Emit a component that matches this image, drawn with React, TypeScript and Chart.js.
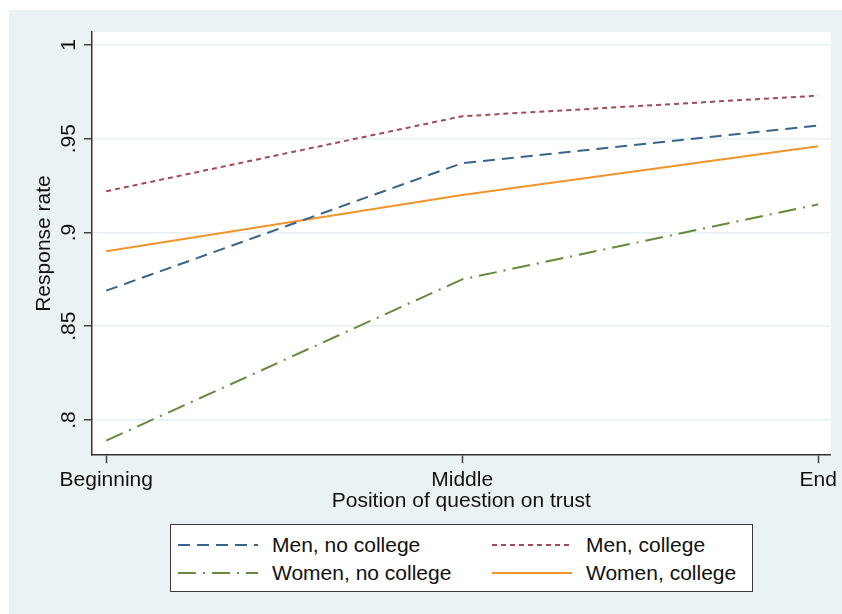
import { useEffect, useRef } from "react"
import { Chart, registerables } from "chart.js"

Chart.register(...registerables)

// Datos
const categorias = ["Beginning", "Middle", "End"]
const posiciones = [0, 1, 2]
const hombresSinUni = [0.869, 0.937, 0.957]
const hombresConUni = [0.922, 0.962, 0.973]
const mujeresSinUni = [0.789, 0.875, 0.915]
const mujeresConUni = [0.89, 0.92, 0.946]
const ticksY = [0.8, 0.85, 0.9, 0.95, 1]

const FUENTE = '"Liberation Sans", Arial, Helvetica, sans-serif'
const FONDO = "#eaf2f3"

const series = [
  { label: "Men, no college", data: hombresSinUni, color: "#38648c", dash: [12, 7] },
  { label: "Men, college", data: hombresConUni, color: "#a24b56", dash: [5, 4] },
  { label: "Women, no college", data: mujeresSinUni, color: "#638b3b", dash: [18, 7, 2, 7] },
  { label: "Women, college", data: mujeresConUni, color: "#f0952c", dash: [] as number[] },
]

// Formato estilo Stata: ".95" en vez de "0.95"
const formatoStata = (v: number) => {
  const s = String(Math.round(v * 100) / 100)
  return s.startsWith("0.") ? s.slice(1) : s
}

const fondoBlanco = {
  id: "fondoBlanco",
  beforeDraw(chart: Chart) {
    const { ctx, chartArea } = chart
    ctx.save()
    ctx.fillStyle = "#ffffff"
    ctx.fillRect(chartArea.left, chartArea.top, chartArea.right - chartArea.left, chartArea.bottom - chartArea.top)
    ctx.restore()
  },
}

export default function App() {
  const canvasRef = useRef<HTMLCanvasElement>(null)
  const chartRef = useRef<Chart | null>(null)

  useEffect(() => {
    if (!canvasRef.current) return
    chartRef.current?.destroy()
    chartRef.current = new Chart(canvasRef.current, {
      type: "line",
      data: {
        datasets: series.map((s) => ({
          label: s.label,
          data: s.data.map((y, i) => ({ x: posiciones[i], y })),
          borderColor: s.color,
          backgroundColor: s.color,
          borderWidth: 2,
          borderDash: s.dash,
          pointRadius: 0,
          tension: 0,
          fill: false,
        })),
      },
      options: {
        animation: false,
        responsive: true,
        maintainAspectRatio: false,
        layout: { padding: { left: 0, top: 22, right: 11, bottom: 100.4 } },
        plugins: {
          legend: { display: false },
          tooltip: { enabled: false },
        },
        scales: {
          x: {
            type: "linear",
            min: -0.04,
            max: 2.035,
            afterBuildTicks: (scale) => {
              scale.ticks = posiciones.map((v) => ({ value: v }))
            },
            afterFit: (scale) => {
              scale.height = 58.6
            },
            ticks: {
              autoSkip: false,
              maxRotation: 0,
              padding: 5,
              color: "#111",
              font: { family: FUENTE, size: 21 },
              callback: (v) => categorias[posiciones.indexOf(Number(v))] ?? "",
            },
            grid: {
              drawOnChartArea: false,
              tickLength: 8,
              tickColor: "#444",
              tickWidth: 1.5,
            },
            border: { display: true, color: "#333", width: 1.5 },
            title: {
              display: true,
              text: "Position of question on trust",
              color: "#111",
              font: { family: FUENTE, size: 21 },
              padding: { top: 0, bottom: 0 },
            },
          },
          y: {
            min: 0.78133,
            max: 1.00693,
            afterBuildTicks: (scale) => {
              scale.ticks = ticksY.map((v) => ({ value: v }))
            },
            afterFit: (scale) => {
              scale.width = 83
            },
            ticks: {
              autoSkip: false,
              minRotation: 90,
              maxRotation: 90,
              crossAlign: "center",
              padding: 0,
              color: "#111",
              font: { family: FUENTE, size: 21 },
              callback: (v) => formatoStata(Number(v)),
            },
            grid: {
              color: "#e6eff1",
              lineWidth: 1.5,
              tickLength: 8,
              tickColor: "#444",
              tickWidth: 1.5,
            },
            border: { display: true, color: "#333", width: 1.5 },
            title: {
              display: true,
              text: "Response rate",
              color: "#111",
              font: { family: FUENTE, size: 21 },
              padding: { top: 23, bottom: 0 },
            },
          },
        },
      },
      plugins: [fondoBlanco],
    })
    return () => {
      chartRef.current?.destroy()
      chartRef.current = null
    }
  }, [])

  return (
    <div style={{ position: "absolute", left: 9, top: 10, width: 833, height: 604, background: FONDO }}>
      <canvas ref={canvasRef}></canvas>
      {/* Leyenda en dos columnas, como en Stata */}
      <div
        style={{
          position: "absolute",
          left: 161,
          top: 514,
          width: 583,
          height: 68,
          boxSizing: "border-box",
          background: "#fff",
          border: "1.5px solid #3a3a3a",
          fontFamily: FUENTE,
          fontSize: 21,
          color: "#111",
        }}
      >
        {series.map((s, i) => (
          <ItemLeyenda key={s.label} texto={s.label} color={s.color} dash={s.dash} col={i % 2} fila={Math.floor(i / 2)} />
        ))}
      </div>
    </div>
  )
}

function ItemLeyenda({
  texto,
  color,
  dash,
  col,
  fila,
}: {
  texto: string
  color: string
  dash: number[]
  col: number
  fila: number
}) {
  const izquierda = col === 0 ? 7 : 321
  const centroY = fila === 0 ? 20 : 48
  return (
    <div style={{ position: "absolute", left: izquierda, top: centroY - 13, height: 26, display: "flex", alignItems: "center", whiteSpace: "nowrap" }}>
      <svg width={80} height={4} style={{ marginRight: 14 }}>
        <line x1={0} y1={2} x2={80} y2={2} stroke={color} strokeWidth={2} strokeDasharray={dash.length ? dash.join(" ") : undefined} />
      </svg>
      <span>{texto}</span>
    </div>
  )
}
